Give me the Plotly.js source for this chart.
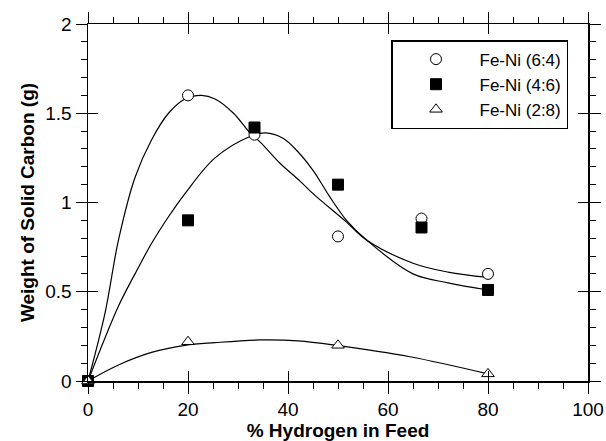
<!DOCTYPE html>
<html>
<head>
<meta charset="utf-8">
<script src="https://cdn.plot.ly/plotly-3.0.1.min.js"></script>
<style>html,body{margin:0;padding:0;background:#fff;}#chart{width:606px;height:441px;}</style>
</head>
<body>
<div id="chart"></div>
<script>
// Measured data (% hydrogen in feed vs weight of solid carbon, g)
const names = ["Fe-Ni (6:4)", "Fe-Ni (4:6)", "Fe-Ni (2:8)"];
const xA = [0, 20, 33.3, 50, 66.7, 80];
const yA = [0, 1.60, 1.38, 0.81, 0.91, 0.60];
const xB = [0, 20, 33.3, 50, 66.7, 80];
const yB = [0, 0.90, 1.42, 1.10, 0.86, 0.51];
const xC = [0, 20, 50, 80];
const yC = [0, 0.22, 0.20, 0.04];

// Fitted curves
const fitXA = [0, 3.4, 6.1, 9.4, 12.7, 16.1, 19.4, 22.7, 25.4, 29.1, 32.4, 34.4, 38.4, 42.4, 45, 51.7, 55.7, 65, 72, 80];
const fitYA = [0, 0.38, 0.79, 1.14, 1.35, 1.50, 1.58, 1.60, 1.58, 1.50, 1.39, 1.34, 1.22, 1.12, 1.05, 0.89, 0.79, 0.66, 0.61, 0.58];
const fitXB = [0, 6.1, 9.4, 12.7, 16.1, 19.4, 25.4, 32.4, 35.5, 39, 41.8, 45, 48.4, 51.7, 55.7, 65, 72, 80];
const fitYB = [0, 0.42, 0.60, 0.77, 0.92, 1.05, 1.25, 1.37, 1.39, 1.36, 1.29, 1.18, 1.03, 0.90, 0.79, 0.60, 0.55, 0.51];
const fitXC = [0, 6.1, 12.7, 19.4, 25.4, 34.4, 42, 49.7, 64.4, 80];
const fitYC = [0, 0.09, 0.16, 0.20, 0.215, 0.23, 0.225, 0.20, 0.136, 0.04];

const font = "Liberation Sans, Arial, Helvetica, sans-serif";

function curve(x, y) {
  return {x: x, y: y, type: "scatter", mode: "lines", showlegend: false, hoverinfo: "skip",
          line: {color: "#000", width: 1.2, shape: "spline", smoothing: 1}};
}
function pts(x, y, name, symbol, fill) {
  return {x: x, y: y, type: "scatter", mode: "markers", name: name, cliponaxis: false,
          marker: {symbol: symbol, size: 11, color: fill, line: {color: "#000", width: 1}}};
}

const data = [
  curve(fitXA, fitYA), curve(fitXB, fitYB), curve(fitXC, fitYC),
  pts(xA, yA, names[0], "circle", "#fff"),
  pts(xB, yB, names[1], "square", "#000"),
  pts(xC, yC, names[2], "triangle-up", "#fff")
];

const axCommon = {showgrid: false, zeroline: false, linecolor: "#000", linewidth: 1.5, tickcolor: "#000", tickwidth: 1};

const layout = {
  width: 606, height: 441,
  margin: {l: 88, r: 18, t: 24, b: 60},
  paper_bgcolor: "#fff", plot_bgcolor: "#fff",
  font: {family: font, color: "#000", size: 19},
  showlegend: true,
  legend: {x: 0.606, y: 0.955, xanchor: "left", yanchor: "top", bordercolor: "#000", borderwidth: 1.5,
           bgcolor: "#fff", font: {size: 17, family: font}, itemwidth: 77, tracegroupgap: 0},
  xaxis: Object.assign({}, axCommon, {
    range: [0, 100], tickmode: "linear", tick0: 0, dtick: 20, ticks: "outside", ticklen: 11,
    showline: true, mirror: "ticks",
    minor: {dtick: 5, tick0: 0, ticks: "outside", ticklen: 6, tickcolor: "#000", tickwidth: 1, showgrid: false},
    title: {text: "<b>% Hydrogen in Feed</b>", font: {size: 19, family: font}, standoff: 6}
  }),
  yaxis: Object.assign({}, axCommon, {
    range: [0, 2], tickmode: "linear", tick0: 0, dtick: 0.5, ticks: "outside", ticklen: 11,
    showline: true, mirror: "ticks",
    minor: {dtick: 0.1, tick0: 0, ticks: "outside", ticklen: 6, tickcolor: "#000", tickwidth: 1, showgrid: false},
    title: {text: "<b>Weight of Solid Carbon (g)</b>", font: {size: 19, family: font}, standoff: 5}
  }),
  xaxis2: Object.assign({}, axCommon, {
    overlaying: "x", anchor: "y", side: "bottom", range: [0, 100], tickmode: "linear", tick0: 0, dtick: 20,
    ticks: "inside", ticklen: 10, showticklabels: false, showline: false, mirror: "ticks"
  }),
  yaxis2: Object.assign({}, axCommon, {
    overlaying: "y", anchor: "x", side: "left", range: [0, 2], tickmode: "linear", tick0: 0, dtick: 0.5,
    ticks: "inside", ticklen: 10, showticklabels: false, showline: false, mirror: "ticks"
  })
};

// invisible trace on the overlay axes so they are drawn
data.push({x: [0], y: [0], xaxis: "x2", yaxis: "y2", type: "scatter", mode: "markers",
           marker: {opacity: 0}, showlegend: false, hoverinfo: "skip"});

Plotly.newPlot("chart", data, layout, {staticPlot: true});
</script>
</body>
</html>
